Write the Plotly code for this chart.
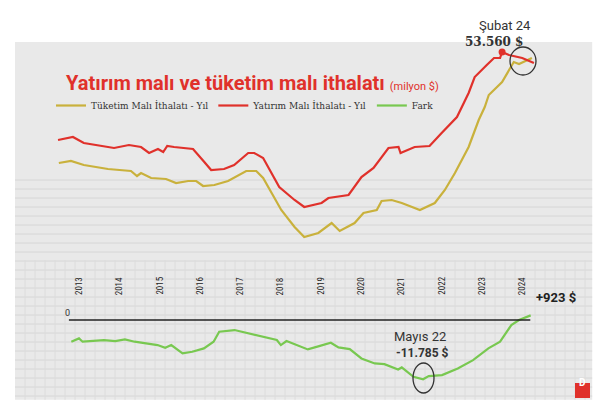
import plotly.graph_objects as go

# decimal year / million $
red_t = [2012.48, 2012.85, 2013.12, 2013.87, 2014.24, 2014.54, 2014.74, 2014.96, 2015.09, 2015.19,
         2015.36, 2015.83, 2016.11, 2016.28, 2016.60, 2016.85, 2017.20, 2017.35, 2017.57, 2017.97,
         2018.35, 2018.59, 2019.02, 2019.19, 2019.69, 2020.01, 2020.31, 2020.68, 2020.93, 2020.98,
         2021.33, 2021.70, 2022.00, 2022.38, 2022.67, 2022.82, 2023.12, 2023.30, 2023.45, 2023.50,
         2023.67, 2024.00, 2024.29]
red_v = [36840, 37410, 36270, 35320, 35890, 35510, 34370, 35130, 34560, 35700,
         35510, 35130, 32660, 31140, 31330, 32090, 34370, 34370, 33420, 27910,
         25440, 24110, 24870, 25820, 26390, 29810, 31520, 35320, 35510, 34370,
         35510, 35700, 38170, 41210, 45770, 48810, 51090, 52420, 52420, 53560,
         52990, 52420, 51470]

yel_t = [2012.50, 2012.80, 2013.12, 2013.72, 2014.29, 2014.44, 2014.54, 2014.79, 2015.16, 2015.41,
         2015.71, 2015.91, 2016.08, 2016.36, 2016.70, 2017.15, 2017.40, 2017.57, 2018.02, 2018.35,
         2018.59, 2018.94, 2019.27, 2019.47, 2019.84, 2020.06, 2020.39, 2020.51, 2020.76, 2021.01,
         2021.46, 2021.83, 2022.08, 2022.33, 2022.67, 2022.92, 2023.07, 2023.17, 2023.50, 2023.79,
         2023.92, 2024.24]
yel_v = [32470, 32850, 32090, 31330, 30950, 30000, 30570, 29620, 29430, 28670,
         29050, 29050, 28100, 28290, 29050, 30950, 30950, 29620, 23540, 20310,
         18410, 19170, 21070, 19550, 21070, 22970, 23540, 25250, 25440, 24870,
         23540, 24870, 27340, 30570, 35510, 40640, 43110, 45390, 47860, 51660,
         51280, 52420]

fark_t = [2012.81, 2013.00, 2013.09, 2013.62, 2013.90, 2014.14, 2014.38, 2014.95, 2015.14, 2015.29,
          2015.57, 2015.81, 2016.10, 2016.34, 2016.48, 2016.86, 2017.91, 2018.01, 2018.15, 2018.68,
          2018.96, 2019.25, 2019.44, 2019.72, 2020.01, 2020.34, 2020.58, 2020.92, 2021.01, 2021.30,
          2021.54, 2021.68, 2022.01, 2022.40, 2022.78, 2023.16, 2023.45, 2023.73, 2023.92, 2024.21]
fark_v = [-4320, -3660, -4320, -3990, -4190, -3860, -4320, -4990, -5520, -4990,
          -6650, -6320, -5650, -4320, -2330, -2000, -3990, -4990, -4190, -5850,
          -5190, -4520, -5450, -5790, -7650, -8650, -8780, -9840, -9440, -11300,
          -11785, -11170, -10970, -9640, -7980, -5650, -4320, -1000, 0, 923]

years = list(range(2013, 2025))

RED = "#e0312b"
YEL = "#c9b13c"
GRN = "#78c850"

fig = go.Figure()
fig.add_trace(go.Scatter(x=yel_t, y=yel_v, mode="lines", name="Tüketim Malı İthalatı - Yıl",
                         line=dict(color=YEL, width=2.2), yaxis="y"))
fig.add_trace(go.Scatter(x=red_t, y=red_v, mode="lines", name="Yatırım Malı İthalatı - Yıl",
                         line=dict(color=RED, width=2.2), yaxis="y"))
fig.add_trace(go.Scatter(x=fark_t, y=fark_v, mode="lines", name="Fark",
                         line=dict(color=GRN, width=2.2), yaxis="y2"))
fig.add_trace(go.Scatter(x=[2023.5], y=[53560], mode="markers", showlegend=False,
                         marker=dict(color=RED, size=7), yaxis="y"))

# background panel + notebook grid
shapes = [dict(type="rect", xref="paper", yref="paper", x0=0.025, x1=0.987, y0=0.02, y1=0.897,
               fillcolor="#e9e9e9", line_width=0, layer="below")]
for py in range(180, 400, 9):
    shapes.append(dict(type="line", xref="paper", yref="paper", x0=0.025, x1=0.987,
                       y0=1 - py / 408, y1=1 - py / 408, line=dict(color="#d6d6d6", width=1), layer="below"))
for px in range(25, 592, 10):
    shapes.append(dict(type="line", xref="paper", yref="paper", x0=px / 600, x1=px / 600,
                       y0=0.02, y1=1 - 260 / 408, line=dict(color="#dcdcdc", width=1), layer="below"))
# zero line
shapes.append(dict(type="line", xref="x", yref="y2", x0=2012.75, x1=2024.2, y0=0, y1=0,
                   line=dict(color="#222", width=1.5)))
# circles
shapes.append(dict(type="circle", xref="paper", yref="paper", x0=510 / 600, x1=536 / 600,
                   y0=1 - 75 / 408, y1=1 - 47 / 408, line=dict(color="#333", width=1.3)))
shapes.append(dict(type="circle", xref="paper", yref="paper", x0=413 / 600, x1=434 / 600,
                   y0=1 - 393 / 408, y1=1 - 363 / 408, line=dict(color="#333", width=1.3)))
shapes.append(dict(type="rect", xref="paper", yref="paper", x0=575 / 600, x1=590 / 600,
                   y0=1 - 398 / 408, y1=1 - 383 / 408, fillcolor="#e0312b", line_width=0))

ann = []
for y in years:
    ann.append(dict(x=y, y=1 - 297 / 408, xref="x", yref="paper", text=str(y), showarrow=False,
                    textangle=-90, font=dict(size=9, color="#222", family="Roboto Condensed, Roboto")))


def txt(px, py, s, size, color="#222", bold=False, anchor="center", fam="Roboto"):
    ann.append(dict(x=px / 600, y=1 - py / 408, xref="paper", yref="paper", showarrow=False,
                    text=f"<b>{s}</b>" if bold else s, xanchor=anchor,
                    font=dict(size=size, color=color, family=fam)))


txt(64, 69, "Yatırım malı ve tüketim malı ithalatı <span style='font-size:11px;font-weight:normal'>(milyon $)</span>",
    20, RED, True, "left")
txt(505, 16, "Şubat 24", 13, "#333")
txt(494, 33, "53.560 $", 12, "#333", True, fam="DejaVu Serif")
txt(420, 346, "Mayıs 22", 13, "#333")
txt(422, 362, "-11.785 $", 12, "#333", True)
txt(534, 307, "+923 $", 13, "#222", True, "left")
txt(67, 320, "0", 9, "#333")
txt(582, 390, "<b>D</b>", 10, "white")

fig.update_layout(
    width=600, height=408, margin=dict(l=0, r=0, t=0, b=0),
    paper_bgcolor="white", plot_bgcolor="rgba(0,0,0,0)",
    shapes=shapes, annotations=ann,
    xaxis=dict(range=[2011.04, 2025.93], visible=False, fixedrange=True),
    yaxis=dict(range=[-14080, 63440], visible=False),
    yaxis2=dict(range=[-17512, 63680], visible=False, overlaying="y"),
    legend=dict(orientation="h", x=0.085, y=1 - 91 / 408, xanchor="left", yanchor="top",
                bgcolor="rgba(0,0,0,0)", font=dict(size=9, family="DejaVu Serif", color="#333"),
                itemwidth=30, tracegroupgap=0),
    showlegend=True,
)
fig.write_html("out.html", config={"displayModeBar": False},
               post_script="document.body.style.margin='0';")
